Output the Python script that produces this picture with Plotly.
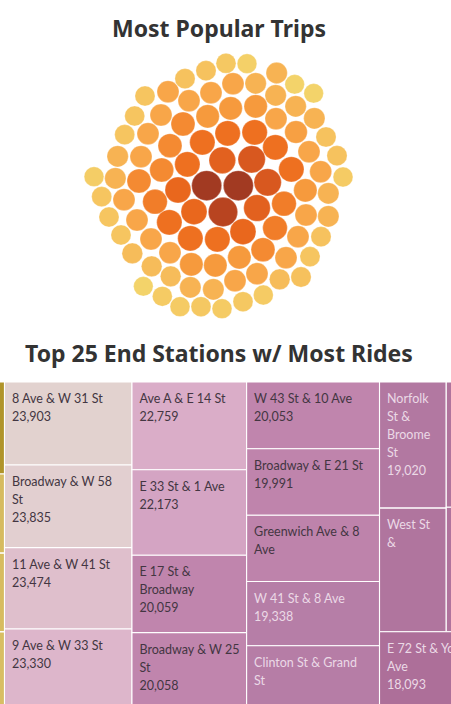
import math
import plotly.graph_objects as go

# ---------- Most Popular Trips (packed bubbles) ----------
bubble_x = [468,531,408,620,345,489,557,674,731,225,294,423,617,357,482,557,677,194,273,413,618,733,339,164,234,473,554,678,768,397,300,616,143,213,717,457,545,801,352,275,664,752,72,136,819,207,410,505,593,324,706,775,95,162,255,459,561,372,642,708,775,117,201,298,519,615,684,753,153,243,361,442,579,300,508,648,720,187,364,436,245,561,302,629,693,495,361,430,220,277,519,580,330,393,456]
bubble_y = [70,71,92,99,116,131,130,133,160,168,155,158,166,182,205,199,199,228,225,229,236,235,252,284,281,280,277,276,291,307,317,322,349,350,335,361,358,347,373,390,388,395,410,415,411,423,437,437,427,450,451,460,470,479,485,516,504,515,491,525,529,531,540,547,575,564,590,590,585,597,595,598,629,638,652,653,650,640,673,676,679,701,709,718,711,722,742,748,739,769,785,765,800,800,806]
bubble_trips = [445,430,455,506,455,538,506,425,425,450,538,538,506,538,605,605,506,450,538,605,538,506,640,450,538,713,713,571,455,713,640,713,506,538,538,790,830,455,713,640,713,538,435,506,440,640,1000,1000,830,751,605,506,450,538,676,956,790,751,676,538,506,450,538,713,751,676,538,455,450,538,713,713,640,538,605,538,450,475,605,605,475,538,475,475,460,538,506,506,425,440,445,440,440,445,440]

trip_colorscale_stops = [(425,"#F3D36A"),(455,"#F6C25E"),(506,"#F7B353"),(538,"#F8A649"),(605,"#F69A3D"),(640,"#F48A32"),(713,"#EE7020"),(751,"#E9671D"),(790,"#E2611F"),(830,"#D8581F"),(956,"#B84420"),(1000,"#A23A22")]

# ---------- Top 25 End Stations (treemap columns) ----------
col0_values = [28400, 24400, 24300, 24100]
col1_names = [["8 Ave & W 31 St"], ["Broadway & W 58", "St"], ["11 Ave & W 41 St"], ["9 Ave & W 33 St"]]
col1_values = [23903, 23835, 23474, 23330]
col2_names = [["Ave A & E 14 St"], ["E 33 St & 1 Ave"], ["E 17 St &", "Broadway"], ["Broadway & W 25", "St"]]
col2_values = [22759, 22173, 20059, 20058]
col3_names = [["W 43 St & 10 Ave"], ["Broadway & E 21 St"], ["Greenwich Ave & 8", "Ave"], ["W 41 St & 8 Ave"], ["Clinton St & Grand", "St"]]
col3_values = [20053, 19991, 19900, 19338, 19300]
col3_shown = [True, True, False, True, False]
col4_names = [["Norfolk", "St &", "Broome", "St"], ["West St", "&"]]
col4_values = [19020, 18650]
col4_shown = [True, False]
col5_values = [18600, 18500]
bottom_names = [["E 72 St & York", "Ave"]]
bottom_values = [18093]

value_stops = [(18000,"#AD6E98"),(19000,"#B278A1"),(19338,"#B67EA7"),(20000,"#BF84AC"),(22173,"#D4A4C3"),(22759,"#DAADC8"),(23330,"#DDB6CB"),(23474,"#DFBFCC"),(23835,"#E2CFD0"),(23903,"#E2D2CF"),(24100,"#D8BE64"),(24400,"#D6BB60"),(28400,"#B0942A")]


def scale(stops):
    lo, hi = stops[0][0], stops[-1][0]
    return lo, hi, [[(v - lo) / (hi - lo), c] for v, c in stops]


TOP, HEIGHT = 382.0, 328.0
AREA = 0.4422
RIGHT_OF_COL0 = 4.5
UPPER_BLOCK = 249.7

cells = []  # x0, x1, y0, height, value
texts = []  # x, y, text, colour


def place(values, x0, y0, height, width, names=None, shown=None):
    total = sum(values)
    y = y0
    for i, v in enumerate(values):
        h = height * v / total
        cells.append((x0, x0 + width, y, h, v))
        if names:
            lines = list(names[i])
            if shown is None or shown[i]:
                lines.append(f"{v:,}")
            colour = "#433642" if v >= 19900 else "#EBD9E6"
            for j, line in enumerate(lines):
                texts.append((x0 + 7.5, y + 18 + 18 * j, line, colour))
        y += h
    return x0 + width


def col_width(values, height):
    return sum(values) * AREA / height


x = RIGHT_OF_COL0 - col_width(col0_values, HEIGHT)
x = place(col0_values, x, TOP, HEIGHT, col_width(col0_values, HEIGHT))
x = place(col1_values, x, TOP, HEIGHT, col_width(col1_values, HEIGHT), col1_names)
x = place(col2_values, x, TOP, HEIGHT, col_width(col2_values, HEIGHT), col2_names)
x = place(col3_values, x, TOP, HEIGHT, col_width(col3_values, HEIGHT), col3_names, col3_shown)
x_right = x
x = place(col4_values, x_right, TOP, UPPER_BLOCK, col_width(col4_values, UPPER_BLOCK), col4_names, col4_shown)
place(col5_values, x, TOP, UPPER_BLOCK, col_width(col5_values, UPPER_BLOCK))
place(bottom_values, x_right, TOP + UPPER_BLOCK, HEIGHT - UPPER_BLOCK,
      col_width(bottom_values, HEIGHT - UPPER_BLOCK), bottom_names)

FONT = "Lato"
TITLE_FONT = "Noto Sans"

fig = go.Figure()

bc_lo, bc_hi, bc_scale = scale(trip_colorscale_stops)
fig.add_trace(go.Scatter(
    x=bubble_x, y=bubble_y, mode="markers", xaxis="x2", yaxis="y2", hoverinfo="skip",
    marker=dict(size=[30 * math.sqrt(t / 1000) for t in bubble_trips], color=bubble_trips,
                colorscale=bc_scale, cmin=bc_lo, cmax=bc_hi, opacity=1,
                line=dict(width=0.6, color="rgba(255,255,255,0.45)")),
))

vc_lo, vc_hi, vc_scale = scale(value_stops)
fig.add_trace(go.Bar(
    x=[(c[0] + c[1]) / 2 for c in cells],
    width=[c[1] - c[0] for c in cells],
    base=[c[2] for c in cells],
    y=[c[3] for c in cells],
    hoverinfo="skip",
    marker=dict(color=[c[4] for c in cells], colorscale=vc_scale, cmin=vc_lo, cmax=vc_hi,
                line=dict(color="white", width=1.1)),
))
fig.add_trace(go.Scatter(
    x=[t[0] for t in texts], y=[t[1] for t in texts], text=[t[2] for t in texts],
    mode="text", textposition="middle right", hoverinfo="skip", cliponaxis=False,
    textfont=dict(family=FONT, size=12.5, color=[t[3] for t in texts]),
))

for label, tx, ty in [("Most Popular Trips", 218.5, 28), ("Top 25 End Stations w/ Most Rides", 218.5, 353)]:
    fig.add_annotation(x=tx, y=ty, xref="x", yref="y", text=f"<b>{label}</b>", showarrow=False,
                       font=dict(family=TITLE_FONT, size=23, color="#333333"))

fig.update_layout(
    width=451, height=704, margin=dict(l=0, r=0, t=0, b=0), showlegend=False,
    paper_bgcolor="white", plot_bgcolor="white", barmode="overlay",
    xaxis=dict(range=[0, 451], visible=False, domain=[0, 1]),
    yaxis=dict(range=[704, 0], visible=False, domain=[0, 1]),
    xaxis2=dict(range=[-210, 1143], visible=False, domain=[0, 1], anchor="y2", overlaying="x"),
    yaxis2=dict(range=[1992, -120], visible=False, domain=[0, 1], anchor="x2", overlaying="y"),
)
fig.write_html("out.html", config={"displayModeBar": False},
               post_script="document.body.style.margin='0';document.body.style.overflow='hidden';")
